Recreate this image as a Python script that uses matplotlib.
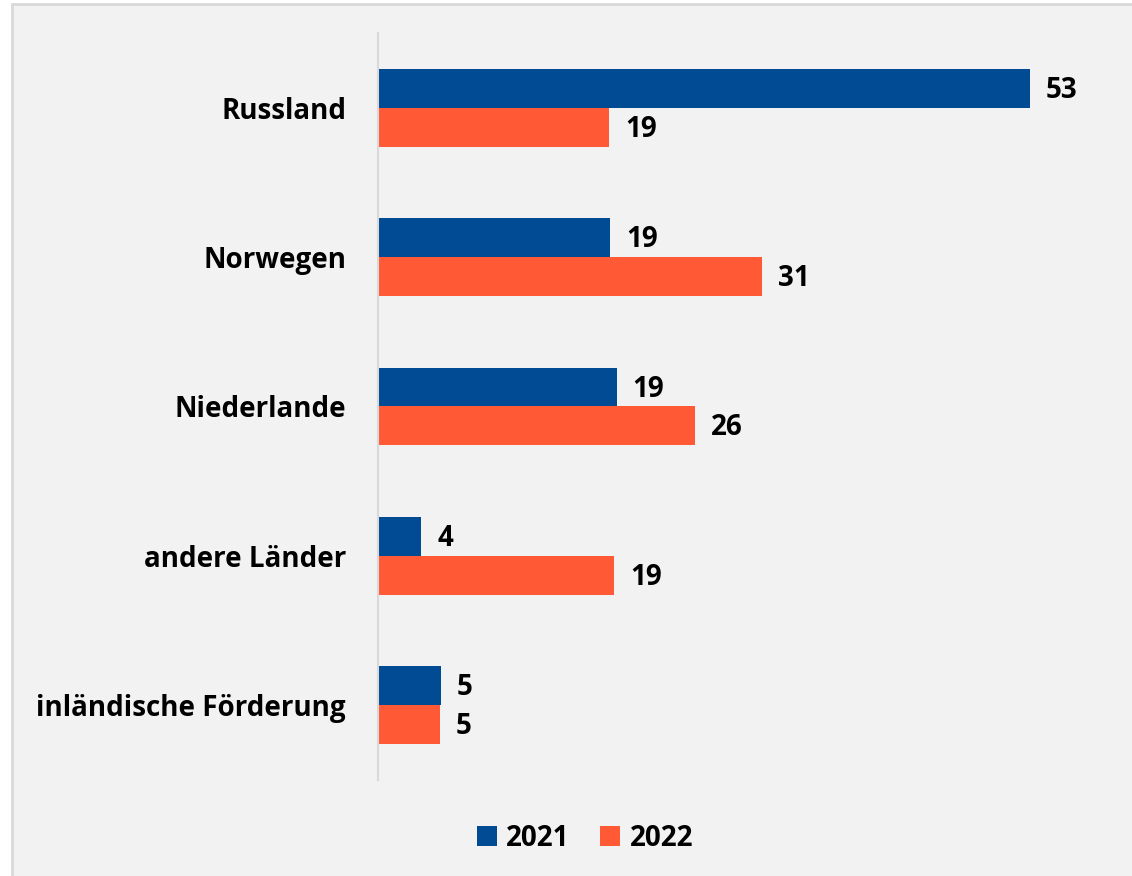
import matplotlib.pyplot as plt
from matplotlib.patches import Rectangle
import numpy as np

# data
categories = ['Russland', 'Norwegen', 'Niederlande', 'andere Länder', 'inländische Förderung']
values_2021 = [53.0, 18.9, 19.4, 3.5, 5.1]
values_2022 = [18.8, 31.2, 25.8, 19.2, 5.0]
labels_2021 = ['53', '19', '19', '4', '5']
labels_2022 = ['19', '31', '26', '19', '5']
series_names = ['2021', '2022']

blue = '#004B93'
orange = '#FF5A35'
font = ['Open Sans', 'DejaVu Sans']
plt.rcParams['font.family'] = font
fs = 20

W, H = 1132, 876
fig = plt.figure(figsize=(W / 100, H / 100), dpi=100, facecolor='white')

# light grey panel with border
fig.patches.append(Rectangle((12 / W, -0.05), 1.2, 1 - 4 / H + 0.05, transform=fig.transFigure,
                             facecolor='#F2F2F2', edgecolor='#D9D9D9', linewidth=2, zorder=-5))

ax = fig.add_axes([378 / W, 1 - 780 / H, (1116 - 378) / W, (780 - 33) / H])
ax.set_facecolor('none')
ax.set_zorder(2)

y = np.arange(len(categories))
h = 0.26
ax.barh(y - h / 2, values_2021, height=h, color=blue, label=series_names[0])
ax.barh(y + h / 2, values_2022, height=h, color=orange, label=series_names[1])

for yi, v, lab in zip(y, values_2021, labels_2021):
    ax.annotate(lab, (v, yi - h / 2), xytext=(16, -2), textcoords='offset pixels',
                va='center', ha='left', fontsize=fs, fontweight='bold')
for yi, v, lab in zip(y, values_2022, labels_2022):
    ax.annotate(lab, (v, yi + h / 2), xytext=(16, -2), textcoords='offset pixels',
                va='center', ha='left', fontsize=fs, fontweight='bold')

ax.set_xlim(0, 60)
ax.set_ylim(len(categories) - 0.5, -0.5)
ax.set_yticks(y)
ax.set_yticklabels(categories, fontsize=fs, fontweight='bold')
ax.tick_params(axis='y', length=0, pad=23)
ax.set_xticks([])
for s in ['top', 'right', 'bottom']:
    ax.spines[s].set_visible(False)
ax.spines['left'].set_color('#D9D9D9')
ax.spines['left'].set_linewidth(1.5)

leg = fig.legend(loc='center', bbox_to_anchor=(585 / W, 1 - 838 / H), ncol=2, frameon=False,
                 prop={'size': fs, 'weight': 'bold'}, handlelength=0.7, handleheight=0.7,
                 handletextpad=0.35, columnspacing=1.1)
leg.set_zorder(3)

fig.savefig('out.png', dpi=100, facecolor=fig.get_facecolor())
